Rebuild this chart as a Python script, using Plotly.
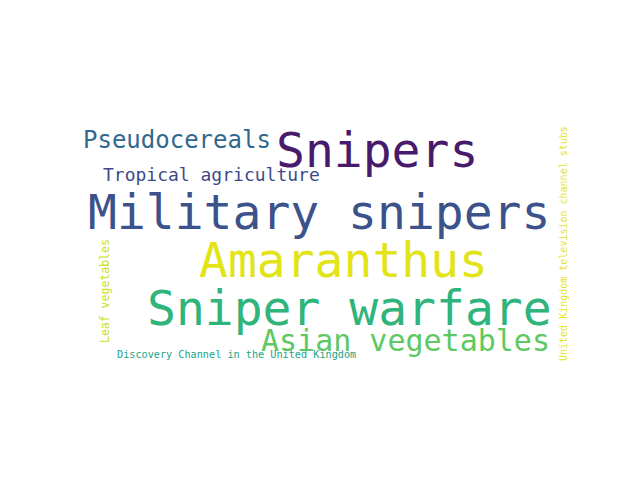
import plotly.graph_objects as go

words = ["Snipers", "Military snipers", "Amaranthus", "Sniper warfare", "Asian vegetables",
         "Pseudocereals", "Tropical agriculture", "Discovery Channel in the United Kingdom",
         "Leaf vegetables", "United Kingdom television channel stubs"]
x = [369, 311, 335, 341, 397, 169, 203, 228, 97, 555]
y = [142, 204, 252, 300, 332, 132, 166, 346, 283, 236]
sizes = [48, 48, 48, 48, 30, 24, 18, 10.2, 11.5, 10]
angles = [0, 0, 0, 0, 0, 0, 0, 0, -90, -90]
colors = ["#481a6c", "#3b528b", "#e2e418", "#2fb47c", "#5ec962",
          "#31688e", "#3e4a89", "#20a386", "#c8e020", "#e5e419"]

fig = go.Figure()
for w, xi, yi, s, a, c in zip(words, x, y, sizes, angles, colors):
    fig.add_annotation(x=xi, y=yi, text=w, showarrow=False, textangle=a,
                       font=dict(family="DejaVu Sans Mono", size=s, color=c),
                       xref="x", yref="y", xanchor="center", yanchor="middle")
fig.update_xaxes(range=[0, 640], visible=False)
fig.update_yaxes(range=[480, 0], visible=False)
fig.update_layout(width=640, height=480, margin=dict(l=0, r=0, t=0, b=0),
                  plot_bgcolor="white", paper_bgcolor="white", showlegend=False)
fig.write_html("out.html")
